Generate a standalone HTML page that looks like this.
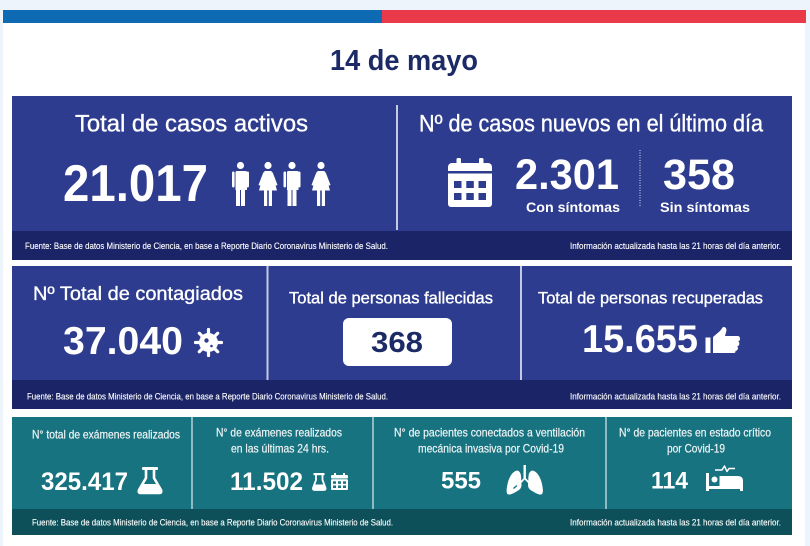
<!DOCTYPE html>
<html lang="es">
<head>
<meta charset="utf-8">
<style>
  html,body{margin:0;padding:0;background:#edf4fb;}
  body{width:810px;height:546px;overflow:hidden;position:relative;}
  svg{position:absolute;left:0;top:0;display:block;}
  text{font-family:"Liberation Sans",Arial,sans-serif;}
  .med{stroke:#ffffff;stroke-width:0.35;}
  .medt{stroke:#eef4f5;stroke-width:0.2;}
  .ft{stroke:#ffffff;stroke-width:0.12;}
</style>
</head>
<body>
<svg width="810" height="546" viewBox="0 0 810 546" xmlns="http://www.w3.org/2000/svg">
  <rect x="0" y="0" width="810" height="546" fill="#edf4fb"/>
  <rect x="3" y="10" width="802" height="536" fill="#ffffff"/>
  <rect x="3" y="10" width="379" height="13" fill="#0f6ab4"/>
  <rect x="382" y="10" width="424" height="13" fill="#ea3a4a"/>

  <text x="330" y="70" font-size="29" font-weight="bold" fill="#1c2a66" textLength="148" lengthAdjust="spacingAndGlyphs">14 de mayo</text>

  <!-- ROW 1 -->
  <rect x="12" y="96" width="780" height="164" fill="#2d3c8e"/>
  <rect x="12" y="231" width="780" height="29" fill="#1b2466"/>
  <line x1="397" y1="105" x2="397" y2="230" stroke="#c5cae0" stroke-width="2"/>

  <text class="med" x="75" y="131.5" font-size="24.5" fill="#ffffff" textLength="233" lengthAdjust="spacingAndGlyphs">Total de casos activos</text>
  <text x="63" y="201" font-size="52" font-weight="bold" fill="#ffffff" textLength="145" lengthAdjust="spacingAndGlyphs">21.017</text>

  <g fill="#ffffff">
    <circle cx="240.5" cy="165.5" r="3.6"/>
    <path d="M235.5 171 h10 a1.5 1.5 0 0 1 1.5 1.5 V190 h-11.5 V172.5 a1.5 1.5 0 0 1 1.5 -1.5z"/>
    <rect x="232" y="171.5" width="2.6" height="16" rx="1.2"/>
    <rect x="246.4" y="171.5" width="2.6" height="16" rx="1.2"/>
    <rect x="236" y="189" width="4" height="17"/>
    <rect x="241" y="189" width="4" height="17"/>
    <circle cx="268" cy="165.5" r="3.6"/>
    <path d="M264.5 171 h7 L277 190.5 H259z"/>
    <path d="M263.5 172 L258.5 185 l1.8 0.8 L265 174z"/>
    <path d="M272.5 172 L277.5 185 l-1.8 0.8 L271 174z"/>
    <rect x="264" y="190" width="3.2" height="16"/>
    <rect x="268.8" y="190" width="3.2" height="16"/>
    <circle cx="292" cy="165.5" r="3.6"/>
    <path d="M287 171 h10 a1.5 1.5 0 0 1 1.5 1.5 V190 h-11.5 V172.5 a1.5 1.5 0 0 1 1.5 -1.5z"/>
    <rect x="283.5" y="171.5" width="2.6" height="16" rx="1.2"/>
    <rect x="297.9" y="171.5" width="2.6" height="16" rx="1.2"/>
    <rect x="287.5" y="189" width="4" height="17"/>
    <rect x="292.5" y="189" width="4" height="17"/>
    <circle cx="321" cy="165.5" r="3.6"/>
    <path d="M317.5 171 h7 L330 190.5 H312z"/>
    <path d="M316.5 172 L311.5 185 l1.8 0.8 L318 174z"/>
    <path d="M325.5 172 L330.5 185 l-1.8 0.8 L324 174z"/>
    <rect x="317" y="190" width="3.2" height="16"/>
    <rect x="321.8" y="190" width="3.2" height="16"/>
  </g>

  <text class="med" x="419" y="131.5" font-size="24.5" fill="#ffffff" textLength="344" lengthAdjust="spacingAndGlyphs">Nº de casos nuevos en el último día</text>

  <g>
    <rect x="456.5" y="158" width="4.5" height="9" rx="1.5" fill="#ffffff"/>
    <rect x="479" y="158" width="4.5" height="9" rx="1.5" fill="#ffffff"/>
    <path d="M452 163 H488 a4 4 0 0 1 4 4 V171 H448 V167 a4 4 0 0 1 4 -4z" fill="#ffffff"/>
    <path d="M448 173.5 H492 V204 a3 3 0 0 1 -3 3 H451 a3 3 0 0 1 -3 -3z" fill="#ffffff"/>
    <g fill="#2d3c8e">
      <rect x="454" y="181" width="7.5" height="7"/>
      <rect x="466.3" y="181" width="7.5" height="7"/>
      <rect x="478.5" y="181" width="7.5" height="7"/>
      <rect x="454" y="193" width="7.5" height="7"/>
      <rect x="466.3" y="193" width="7.5" height="7"/>
      <rect x="478.5" y="193" width="7.5" height="7"/>
    </g>
  </g>

  <text x="515" y="189" font-size="43" font-weight="bold" fill="#ffffff" textLength="104" lengthAdjust="spacingAndGlyphs">2.301</text>
  <text x="663" y="189" font-size="43" font-weight="bold" fill="#ffffff" textLength="72" lengthAdjust="spacingAndGlyphs">358</text>
  <line x1="640" y1="150" x2="640" y2="207" stroke="#ffffff" stroke-width="1" stroke-dasharray="1 1.5" opacity="0.85"/>
  <text x="526" y="212" font-size="13.5" font-weight="bold" fill="#ffffff" textLength="94" lengthAdjust="spacingAndGlyphs">Con síntomas</text>
  <text x="660" y="212" font-size="13.5" font-weight="bold" fill="#ffffff" textLength="90" lengthAdjust="spacingAndGlyphs">Sin síntomas</text>

  <text class="ft" x="25" y="249" font-size="8.8" fill="#ffffff" textLength="363" lengthAdjust="spacingAndGlyphs">Fuente: Base de datos Ministerio de Ciencia, en base a Reporte Diario Coronavirus Ministerio de Salud.</text>
  <text class="ft" x="570" y="249" font-size="8.8" fill="#ffffff" textLength="211" lengthAdjust="spacingAndGlyphs">Información actualizada hasta las 21 horas  del día anterior.</text>

  <!-- ROW 2 -->
  <rect x="12" y="266" width="780" height="143" fill="#2d3c8e"/>
  <rect x="12" y="380" width="780" height="29" fill="#1b2466"/>
  <line x1="267.5" y1="266" x2="267.5" y2="380" stroke="#c5cae0" stroke-width="2"/>
  <line x1="521" y1="266" x2="521" y2="380" stroke="#c5cae0" stroke-width="2"/>

  <text class="med" x="33" y="300" font-size="19.5" fill="#ffffff" textLength="210" lengthAdjust="spacingAndGlyphs">Nº Total de contagiados</text>
  <text x="63" y="354" font-size="39" font-weight="bold" fill="#ffffff" textLength="120" lengthAdjust="spacingAndGlyphs">37.040</text>

  <g fill="#ffffff">
    <circle cx="208.5" cy="342.5" r="9.5"/>
    <g stroke="#ffffff" stroke-width="3.2" stroke-linecap="round">
      <line x1="208.5" y1="342.5" x2="208.5" y2="329.5"/>
      <line x1="208.5" y1="342.5" x2="208.5" y2="355.5"/>
      <line x1="208.5" y1="342.5" x2="195.5" y2="342.5"/>
      <line x1="208.5" y1="342.5" x2="221.5" y2="342.5"/>
      <line x1="208.5" y1="342.5" x2="199.3" y2="333.3"/>
      <line x1="208.5" y1="342.5" x2="217.7" y2="351.7"/>
      <line x1="208.5" y1="342.5" x2="199.3" y2="351.7"/>
      <line x1="208.5" y1="342.5" x2="217.7" y2="333.3"/>
    </g>
    <circle cx="206.5" cy="340.5" r="2.2" fill="#2d3c8e"/>
    <circle cx="211.5" cy="346" r="1.3" fill="#2d3c8e"/>
  </g>

  <text class="med" x="289" y="303.5" font-size="16.5" fill="#ffffff" textLength="204" lengthAdjust="spacingAndGlyphs">Total de personas fallecidas</text>
  <rect x="343" y="318" width="109" height="48" rx="6" fill="#ffffff"/>
  <text x="371" y="352" font-size="29" font-weight="bold" fill="#1c2a66" textLength="52" lengthAdjust="spacingAndGlyphs">368</text>

  <text class="med" x="538" y="303.5" font-size="16.5" fill="#ffffff" textLength="225" lengthAdjust="spacingAndGlyphs">Total de personas recuperadas</text>
  <text x="582" y="352" font-size="39" font-weight="bold" fill="#ffffff" textLength="116" lengthAdjust="spacingAndGlyphs">15.655</text>

  <g fill="#ffffff">
    <path d="M705.5 337.5 h5 v15.5 h-5z"/>
    <path d="M713 337 L720 331 L723 327 Q726.5 326.5 726.5 330.5 L725 336 H737.5 Q740 336 740 338.8 Q740 341 738.2 341.5 Q739.8 342.5 739.2 344.6 Q738.5 346.2 737.2 346.4 Q738.5 347.6 737.6 349.6 Q736.8 351 735.4 351 Q736 353 733.5 353 H713z"/>
  </g>

  <text class="ft" x="27" y="399.5" font-size="8.8" fill="#ffffff" textLength="361" lengthAdjust="spacingAndGlyphs">Fuente: Base de datos Ministerio de Ciencia, en base a Reporte Diario Coronavirus Ministerio de Salud.</text>
  <text class="ft" x="570" y="399.5" font-size="8.8" fill="#ffffff" textLength="211" lengthAdjust="spacingAndGlyphs">Información actualizada hasta las 21 horas  del día anterior.</text>

  <!-- ROW 3 -->
  <rect x="12" y="417" width="780" height="118" fill="#177380"/>
  <rect x="12" y="509" width="780" height="26" fill="#0e5059"/>
  <line x1="192" y1="417" x2="192" y2="509" stroke="#b9d3d8" stroke-width="1.5"/>
  <line x1="373" y1="417" x2="373" y2="509" stroke="#b9d3d8" stroke-width="1.5"/>
  <line x1="606" y1="417" x2="606" y2="509" stroke="#b9d3d8" stroke-width="1.5"/>

  <g fill="#eef4f5" class="medt">
    <text x="32" y="438.3" font-size="11.7" textLength="148" lengthAdjust="spacingAndGlyphs">N° total de exámenes realizados</text>
    <text x="216" y="436.3" font-size="11.7" textLength="126" lengthAdjust="spacingAndGlyphs">N° de exámenes realizados</text>
    <text x="231" y="452.5" font-size="11.7" textLength="98" lengthAdjust="spacingAndGlyphs">en las últimas 24 hrs.</text>
    <text x="394" y="436.5" font-size="11.7" textLength="191" lengthAdjust="spacingAndGlyphs">N° de pacientes conectados a ventilación</text>
    <text x="418" y="452.5" font-size="11.7" textLength="146" lengthAdjust="spacingAndGlyphs">mecánica invasiva por Covid-19</text>
    <text x="619" y="436.5" font-size="11.7" textLength="152" lengthAdjust="spacingAndGlyphs">N° de pacientes en estado crítico</text>
    <text x="667" y="452.5" font-size="11.7" textLength="58" lengthAdjust="spacingAndGlyphs">por Covid-19</text>
  </g>

  <text x="41" y="490" font-size="25" font-weight="bold" fill="#ffffff" textLength="87" lengthAdjust="spacingAndGlyphs">325.417</text>
  <text x="230" y="490" font-size="25" font-weight="bold" fill="#ffffff" textLength="73" lengthAdjust="spacingAndGlyphs">11.502</text>
  <text x="441" y="488.5" font-size="24" font-weight="bold" fill="#ffffff" textLength="40" lengthAdjust="spacingAndGlyphs">555</text>
  <text x="651" y="488.5" font-size="24" font-weight="bold" fill="#ffffff" textLength="37" lengthAdjust="spacingAndGlyphs">114</text>

  <g>
    <rect x="142" y="467" width="16" height="3" rx="1" fill="#ffffff"/>
    <path d="M146 470 V478 L139 490 Q138 493 141 493 H159 Q162 493 161 490 L154 478 V470" fill="none" stroke="#ffffff" stroke-width="2.6" stroke-linejoin="round"/>
    <path d="M142.5 484 H157.5 L160 490 Q160.5 492 158.5 492 H141.5 Q139.5 492 140 490z" fill="#ffffff"/>
  </g>

  <g>
    <rect x="313.5" y="473" width="11" height="2.2" fill="#ffffff"/>
    <path d="M316 475 V480 L313 488 Q312.5 490 314.5 490 H324 Q326 490 325.5 488 L322.5 480 V475" fill="none" stroke="#ffffff" stroke-width="1.8" stroke-linejoin="round"/>
    <path d="M314.5 484.5 H324 L325.3 488.5 Q325.5 489.5 324.3 489.5 H314.2 Q313 489.5 313.3 488.5z" fill="#ffffff"/>
    <rect x="334" y="473" width="2" height="3.5" fill="#ffffff"/>
    <rect x="343" y="473" width="2" height="3.5" fill="#ffffff"/>
    <rect x="331" y="475" width="17" height="3.5" rx="1" fill="#ffffff"/>
    <rect x="331" y="479.3" width="17" height="10.7" rx="1" fill="#ffffff"/>
    <g fill="#177380">
      <rect x="333" y="481.3" width="3" height="2.5"/>
      <rect x="338" y="481.3" width="3" height="2.5"/>
      <rect x="343" y="481.3" width="3" height="2.5"/>
      <rect x="333" y="485.5" width="3" height="2.5"/>
      <rect x="338" y="485.5" width="3" height="2.5"/>
      <rect x="343" y="485.5" width="3" height="2.5"/>
    </g>
  </g>

  <g fill="#ffffff">
    <rect x="523.5" y="465" width="2.4" height="14"/>
    <path d="M524.7 477 L519 483 L520.2 484.3 L524.7 479.5 L529.2 484.3 L530.4 483z"/>
    <path d="M521 476 Q520.5 471 517 470.5 Q511 472 508 482 Q505.5 492 507.5 494 Q509 495.5 514 493 L519 490 Q521.5 488 521.5 485z"/>
    <path d="M528.5 476 Q529 471 532.5 470.5 Q538.5 472 541.5 482 Q544 492 542 494 Q540.5 495.5 535.5 493 L530.5 490 Q528 488 528 485z"/>
    <path d="M513 488 l3.5 -3 l0.8 1 l-3.3 3z" fill="#177380"/>
  </g>

  <g fill="#ffffff">
    <path d="M715 470 H722 L724.5 466 L727 471.5 L729 468.5 H735" fill="none" stroke="#ffffff" stroke-width="1.5" stroke-linejoin="round"/>
    <rect x="706" y="473" width="3" height="18"/>
    <circle cx="714.5" cy="479.5" r="3"/>
    <path d="M719.5 476 H738 Q743 476 743 481 V487 H719.5z"/>
    <rect x="706" y="486" width="37" height="3"/>
    <rect x="740" y="486" width="3" height="5"/>
  </g>

  <text class="ft" x="32" y="525.5" font-size="8.8" fill="#ffffff" textLength="361" lengthAdjust="spacingAndGlyphs">Fuente: Base de datos Ministerio de Ciencia, en base a Reporte Diario Coronavirus Ministerio de Salud.</text>
  <text class="ft" x="570" y="525.5" font-size="8.8" fill="#ffffff" textLength="211" lengthAdjust="spacingAndGlyphs">Información actualizada hasta las 21 horas  del día anterior.</text>
</svg>
</body>
</html>
